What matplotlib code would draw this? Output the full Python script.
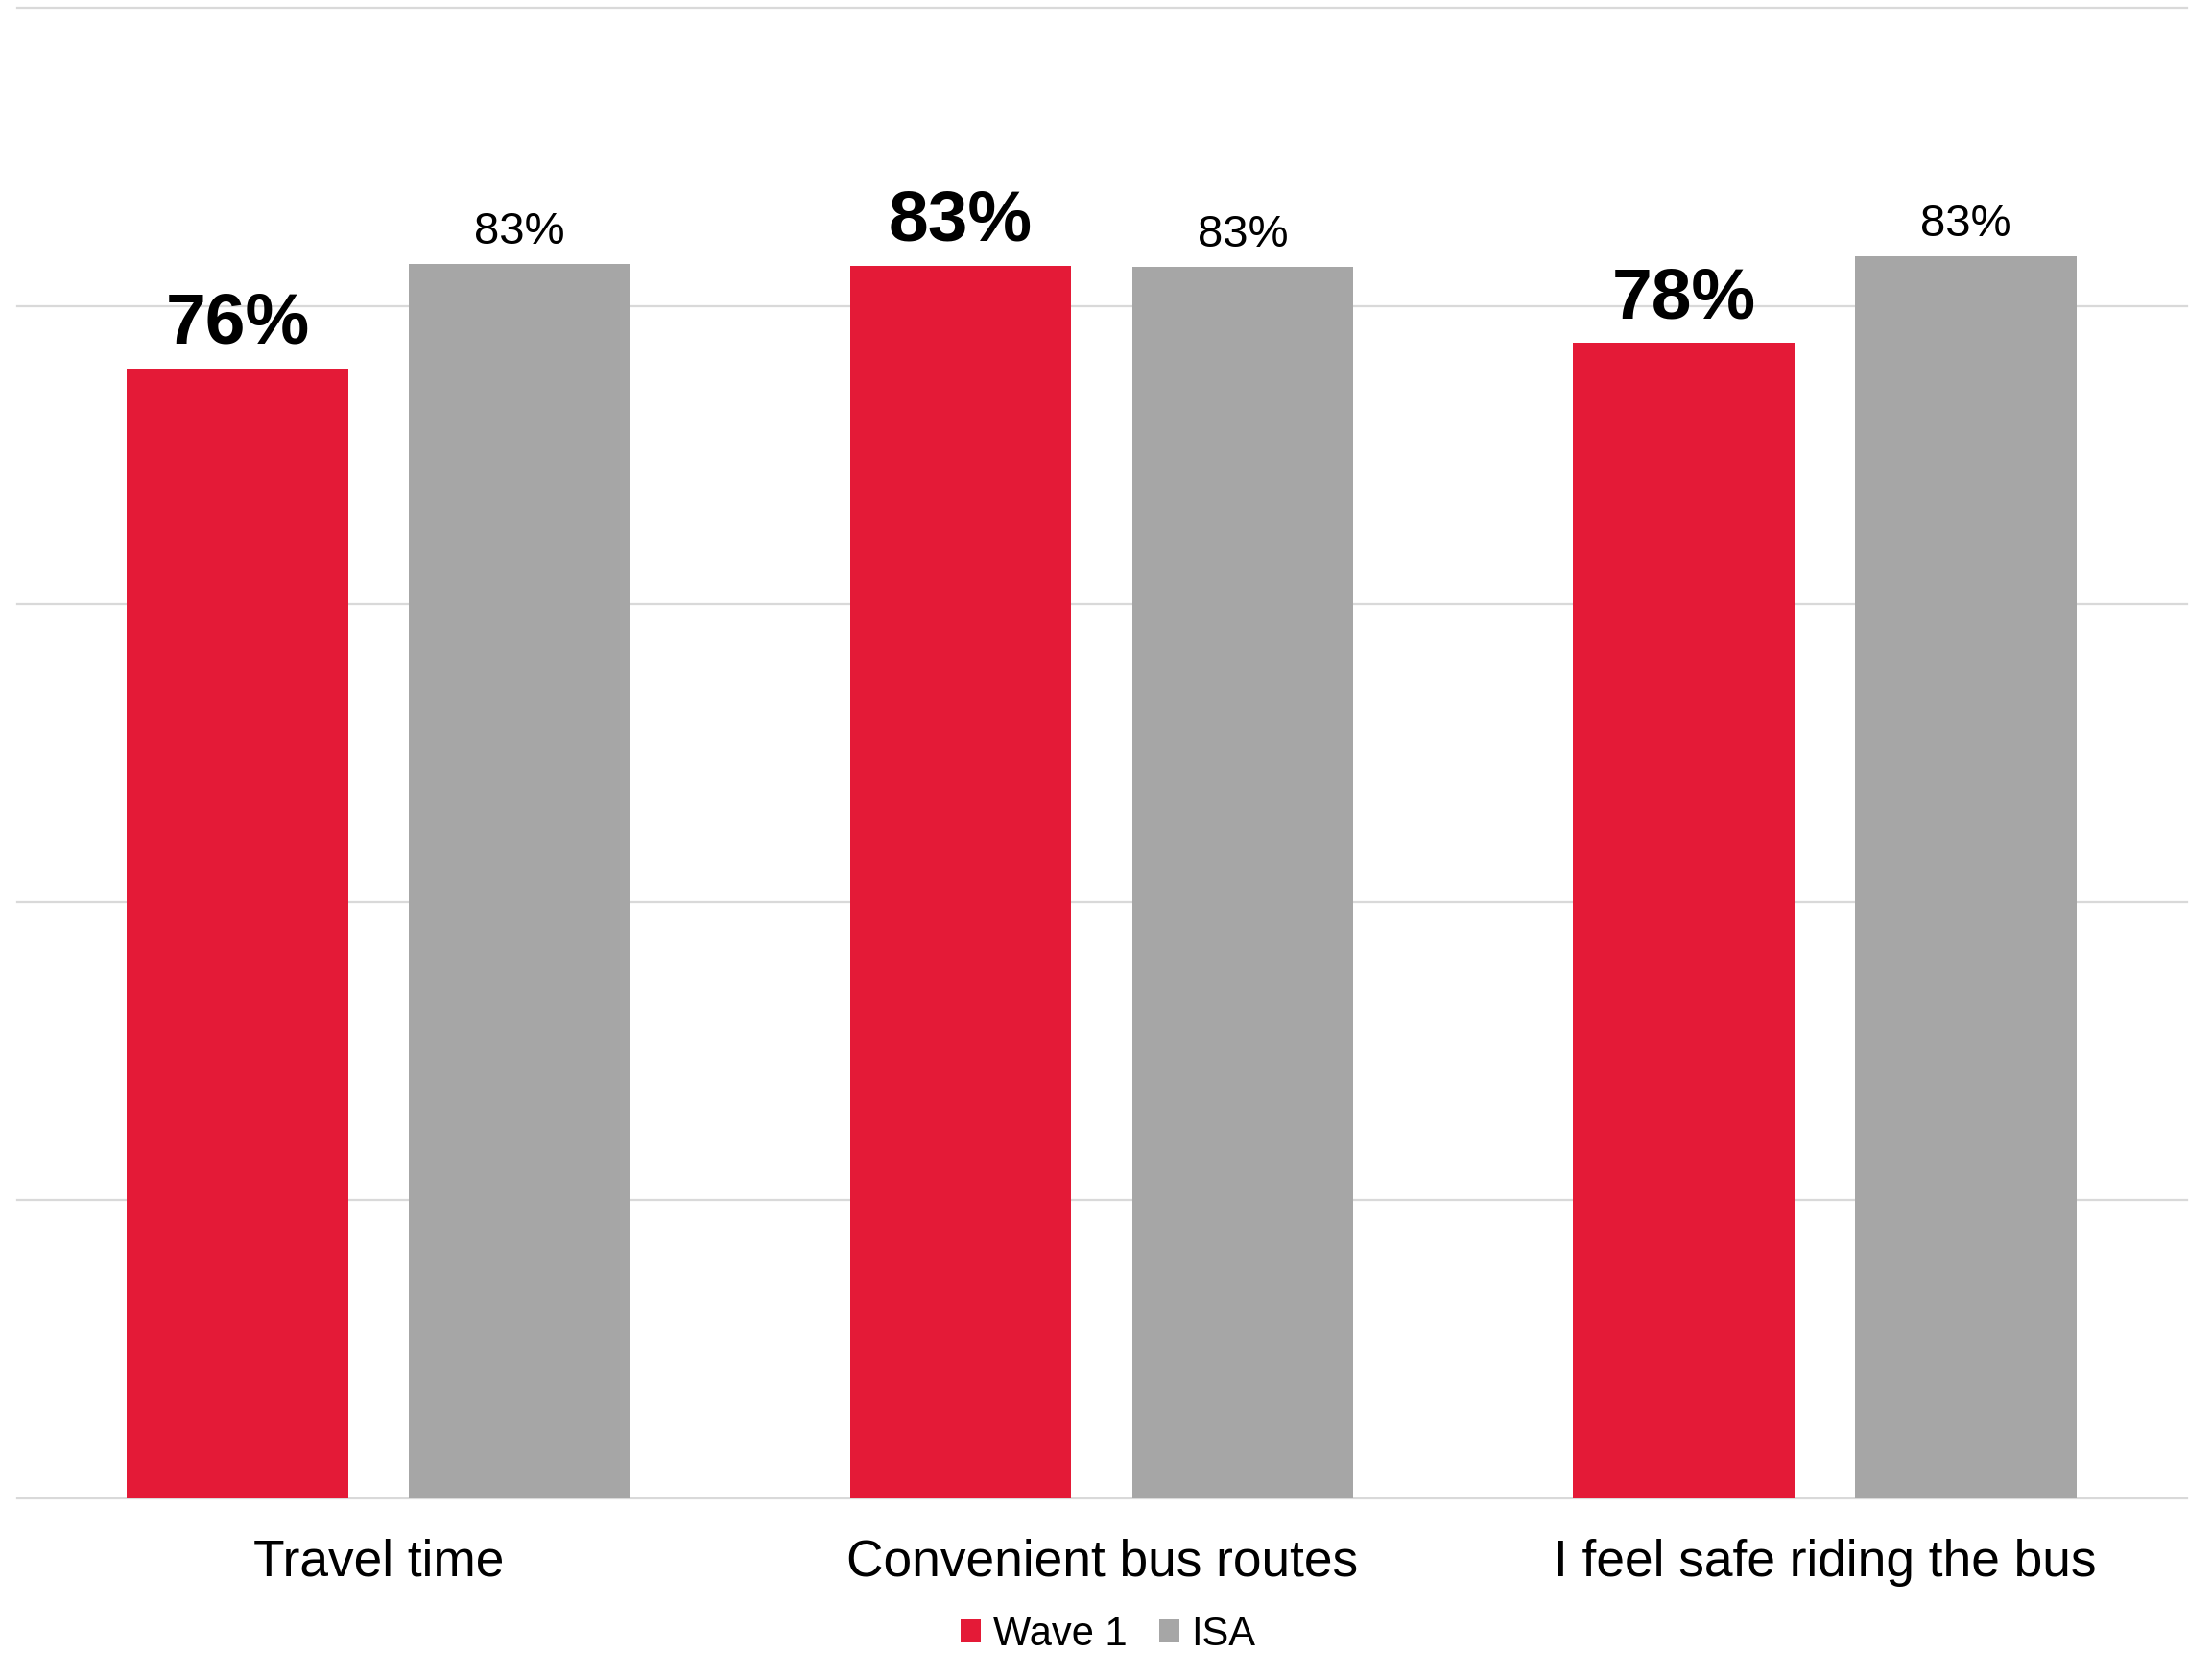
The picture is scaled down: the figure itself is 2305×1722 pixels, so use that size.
import matplotlib
matplotlib.use("Agg")
import matplotlib.pyplot as plt
from matplotlib.patches import Patch
import numpy as np

# Survey results (% agreeing)
categories = ["Travel time", "Convenient bus routes", "I feel safe riding the bus"]
wave1 = [75.8, 82.7, 77.5]
isa = [82.8, 82.6, 83.3]
series_names = ["Wave 1", "ISA"]
grid_ticks = [0, 20, 40, 60, 80, 100]

RED = "#E41A37"
GREY = "#A6A6A6"
GRID = "#D9D9D9"

plt.rcParams["font.family"] = ["Liberation Sans", "DejaVu Sans"]

fig = plt.figure(figsize=(11.525, 8.61), dpi=200)
ax = fig.add_axes([0.00764, 0.0935, 0.9809, 0.9019])

x = np.arange(len(categories))
width = 0.306
offset = 0.195

b1 = ax.bar(x - offset, wave1, width, color=RED, zorder=3)
b2 = ax.bar(x + offset, isa, width, color=GREY, zorder=3)

for rect, v in zip(b1, wave1):
    ax.annotate(f"{v:.0f}%", (rect.get_x() + rect.get_width() / 2, v),
                xytext=(0, 4), textcoords="offset points",
                ha="center", va="bottom", fontsize=27, fontweight="bold",
                color="black")
for rect, v in zip(b2, isa):
    ax.annotate(f"{v:.0f}%", (rect.get_x() + rect.get_width() / 2, v),
                xytext=(0, 4), textcoords="offset points",
                ha="center", va="bottom", fontsize=17, color="black")

ax.set_xlim(-0.5, len(categories) - 0.5)
ax.set_ylim(0, 100)
ax.set_yticks(grid_ticks)
ax.set_yticklabels([])
ax.set_xticks(x)
ax.set_xticklabels(categories, fontsize=19.2)
ax.tick_params(axis="both", length=0)
ax.tick_params(axis="x", pad=15)

ax.yaxis.grid(True, color=GRID, linewidth=0.8, zorder=0)
ax.set_axisbelow(True)
for gl in ax.get_ygridlines():
    gl.set_clip_on(False)
for s in ax.spines.values():
    s.set_visible(False)

handles = [Patch(facecolor=RED, label=series_names[0]),
           Patch(facecolor=GREY, label=series_names[1])]
fig.legend(handles=handles, loc="center", bbox_to_anchor=(0.501, 0.011),
           ncol=2, frameon=False, fontsize=15, handlelength=0.5,
           handleheight=0.5, handletextpad=0.3, columnspacing=0.8,
           borderpad=0, borderaxespad=0)

fig.savefig("out.png", dpi=200, facecolor="white")
